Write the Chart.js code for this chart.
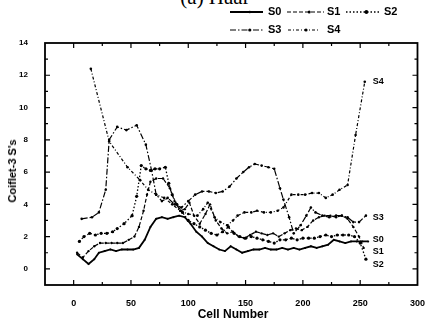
<!DOCTYPE html>
<html><head><meta charset="utf-8">
<script src="https://cdn.jsdelivr.net/npm/chart.js@4"></script>
<style>
html,body{margin:0;padding:0;background:#fff;}
#wrap{position:relative;width:430px;height:329px;overflow:hidden;font-family:"Liberation Sans",Arial,sans-serif;color:#000;}
canvas{position:absolute;left:0;top:0;}
.t{position:absolute;white-space:nowrap;}
#title{left:150px;top:-15px;width:130px;text-align:center;font-family:"Liberation Serif","Times New Roman",serif;font-size:21px;}
.lg{position:absolute;font-size:11px;font-weight:bold;line-height:11px;}
svg.ls{position:absolute;}
#ytitle{left:12px;top:171px;transform:translate(-50%,-50%) rotate(-90deg);font-size:11px;font-weight:bold;}
#xtitle{left:233px;top:314px;transform:translate(-50%,-50%);font-size:12px;font-weight:bold;}
</style></head>
<body><div id="wrap">
<div id="title" class="t">(a) Haar</div>
<canvas id="c" width="430" height="329"></canvas>
<div id="ytitle" class="t">Coiflet-3 S's</div>
<div id="xtitle" class="t">Cell Number</div>
</div>
<script>
// ---- data ----
const seriesNames = ["S0","S1","S2","S3","S4"];
const xTicks = [0,50,100,150,200,250,300];
const yTicks = [0,2,4,6,8,10,12,14];

const s0x = [3,8,13,18,22,27,32,37,42,47,52,57,62,67,72,77,82,87,92,97,102,107,112,117,122,127,132,137,142,147,152,157,162,167,172,177,182,187,192,197,202,207,212,217,222,227,232,237,242,247,252,257];
const s0y = [0.9,0.6,0.3,0.6,1.0,1.1,1.2,1.1,1.2,1.2,1.2,1.3,1.8,2.6,3.1,3.2,3.1,3.2,3.3,3.2,2.8,2.3,2.0,1.6,1.4,1.2,1.1,1.4,1.2,1.0,1.1,1.2,1.2,1.3,1.2,1.2,1.3,1.2,1.3,1.2,1.3,1.4,1.3,1.4,1.5,1.8,1.7,1.6,1.7,1.7,1.7,1.7];

const s1x = [3,8,13,18,23,28,33,38,43,48,53,57,61,64,67,72,78,84,88,93,97,101,105,110,115,119,124,129,134,139,144,149,154,159,164,169,174,179,184,189,194,199,204,209,214,219,224,229,234,239,244,249,253];
const s1y = [1.0,0.7,1.1,1.4,1.6,1.6,1.6,1.6,1.6,1.8,2.0,2.6,3.6,4.6,5.4,5.6,5.6,5.0,4.2,3.6,3.7,4.1,3.3,2.8,3.4,4.0,3.0,2.5,2.2,2.3,2.0,1.9,2.1,2.3,2.2,2.1,2.2,2.0,2.2,2.4,2.5,2.4,2.6,3.0,3.2,3.3,3.3,3.2,3.3,3.1,2.6,2.0,1.3];

const s2x = [5,9,14,19,24,29,34,38,44,51,55,59,63,67,71,75,80,83,86,90,95,100,105,110,115,120,125,130,135,140,145,150,155,160,165,170,175,180,185,190,195,200,205,210,215,220,225,230,235,240,245,250,255];
const s2y = [1.7,2.0,2.2,2.1,2.2,2.2,2.3,2.5,2.8,3.3,4.5,6.4,6.2,6.1,6.2,6.2,6.3,5.3,4.6,4.0,3.5,3.0,2.8,2.6,2.4,2.2,2.1,2.3,2.6,2.2,2.0,1.9,2.0,1.9,1.8,1.7,1.6,1.8,1.8,1.9,1.8,1.9,1.9,1.9,2.0,2.1,2.0,2.1,2.1,2.1,2.0,1.6,0.6];

const s3x = [7,16,22,28,31,38,46,55,63,68,72,77,82,88,94,100,106,112,118,124,130,136,142,148,153,158,164,170,175,180,183,188,192,198,203,207,211,217,223,229,234,239,244,249,255];
const s3y = [3.1,3.2,3.5,4.9,8.0,8.8,8.6,8.9,7.7,6.1,4.6,4.2,4.4,4.0,3.8,4.2,4.6,4.8,4.8,4.7,4.8,5.1,5.6,6.0,6.3,6.5,6.4,6.3,6.2,5.0,4.3,3.2,2.2,2.7,3.3,3.8,3.5,3.3,3.2,3.3,3.3,3.2,2.9,2.9,3.3];

const s4x = [15,31,47,58,65,72,79,86,93,100,108,113,117,123,128,134,139,143,149,155,160,166,172,178,183,190,196,202,208,214,220,226,232,239,246,254];
const s4y = [12.4,7.9,6.3,5.5,4.9,4.6,4.4,4.0,3.6,3.4,3.3,3.7,4.1,3.2,2.9,2.7,3.0,3.3,3.5,3.5,3.6,3.5,3.5,3.6,3.8,4.6,4.6,4.6,4.7,4.7,4.4,4.6,4.9,5.2,8.3,11.6];

// end-of-line labels (name, x, y in data units)
const endLabels = [["S4",261,11.6],["S3",261,3.2],["S0",261,1.8],["S1",261,1.05],["S2",261,0.25]];

// ---- styles ----
const dashes = [[], [4,2], [1.5,2], [6,2,1.5,2], [3,2,1,2]];
const widths = [1.8, 1.2, 1.3, 1.2, 1.2];
const radii  = [1.0, 1.2, 1.6, 1.3, 1.3];

const xs=[s0x,s1x,s2x,s3x,s4x], ys=[s0y,s1y,s2y,s3y,s4y];
const datasets = seriesNames.map((n,i)=>({
  label:n,
  data: xs[i].map((x,k)=>({x:x,y:ys[i][k]})),
  borderColor:'#000', backgroundColor:'#000',
  borderWidth:widths[i], borderDash:dashes[i],
  pointRadius:radii[i], pointBorderWidth:0, pointBackgroundColor:'#000',
  tension:0, showLine:true, fill:false
}));

const frame = {
  id:'frame',
  afterDraw(chart){
    const {ctx, chartArea:a, scales:{x,y}} = chart;
    ctx.save();
    ctx.strokeStyle='#000'; ctx.setLineDash([]);
    ctx.lineWidth=1.8;
    ctx.strokeRect(a.left,a.top,a.right-a.left,a.bottom-a.top);
    ctx.lineWidth=1.2;
    for(let v=-25; v<=300; v+=25){
      const px=x.getPixelForValue(v); if(px<a.left+1||px>a.right-1) continue;
      const L = (v%50===0)?5:3;
      ctx.beginPath(); ctx.moveTo(px,a.bottom); ctx.lineTo(px,a.bottom-L);
      ctx.moveTo(px,a.top); ctx.lineTo(px,a.top+L); ctx.stroke();
    }
    for(let v=-1; v<=14; v+=1){
      const py=y.getPixelForValue(v); if(py<a.top+1||py>a.bottom-1) continue;
      const L = (v%2===0)?5:3;
      ctx.beginPath(); ctx.moveTo(a.left,py); ctx.lineTo(a.left+L,py);
      ctx.moveTo(a.right,py); ctx.lineTo(a.right-L,py); ctx.stroke();
    }
    ctx.fillStyle='#000';
    ctx.font='bold 9px "Liberation Sans", Arial, sans-serif';
    ctx.textBaseline='middle'; ctx.textAlign='left';
    endLabels.forEach(l=>{ ctx.fillText(l[0], x.getPixelForValue(l[1]), y.getPixelForValue(l[2])); });
    ctx.restore();
  }
};

new Chart(document.getElementById('c'), {
  type:'scatter',
  data:{datasets},
  plugins:[frame],
  options:{
    responsive:false, animation:false,
    layout:{padding:{left:0,right:7,top:43,bottom:0}},
    plugins:{legend:{display:false}, tooltip:{enabled:false}},
    scales:{
      x:{type:'linear', min:-25, max:300,
         afterBuildTicks:s=>{s.ticks=xTicks.map(v=>({value:v}));},
         afterFit:s=>{s.height=44;},
         grid:{display:false}, border:{display:false},
         ticks:{padding:5, color:'#000', font:{family:'"Liberation Sans", Arial, sans-serif', size:9, weight:'bold'}, maxRotation:0}},
      y:{type:'linear', min:-1, max:14,
         afterBuildTicks:s=>{s.ticks=yTicks.map(v=>({value:v}));},
         afterFit:s=>{s.width=45;},
         grid:{display:false}, border:{display:false},
         ticks:{padding:9, color:'#000', font:{family:'"Liberation Sans", Arial, sans-serif', size:8, weight:'bold'}}}
    }
  }
});

// ---- legend (HTML) ----
const legendPos = [[230,263,268,12],[287,324,327,12],[346,380,384,12],[230,263,268,30],[288,318,327,30]];
const wrap=document.getElementById('wrap');
seriesNames.forEach((n,i)=>{
  const [x1,x2,tx,cy]=legendPos[i];
  const svg=document.createElementNS('http://www.w3.org/2000/svg','svg');
  svg.setAttribute('class','ls'); svg.setAttribute('width',x2-x1+2); svg.setAttribute('height',6);
  svg.style.left=(x1-1)+'px'; svg.style.top=(cy-3)+'px';
  const ln=document.createElementNS('http://www.w3.org/2000/svg','line');
  ln.setAttribute('x1',1); ln.setAttribute('x2',x2-x1+1); ln.setAttribute('y1',3); ln.setAttribute('y2',3);
  ln.setAttribute('stroke','#000'); ln.setAttribute('stroke-width',widths[i]);
  if(dashes[i].length) ln.setAttribute('stroke-dasharray',dashes[i].join(' '));
  svg.appendChild(ln);
  const c=document.createElementNS('http://www.w3.org/2000/svg','circle');
  c.setAttribute('cx',(x2-x1)*0.6+1); c.setAttribute('cy',3); c.setAttribute('r',radii[i]+0.3); c.setAttribute('fill','#000');
  svg.appendChild(c);
  wrap.appendChild(svg);
  const d=document.createElement('div'); d.className='lg'; d.textContent=n;
  d.style.left=tx+'px'; d.style.top=(cy-6)+'px'; wrap.appendChild(d);
});
</script>
</body></html>
